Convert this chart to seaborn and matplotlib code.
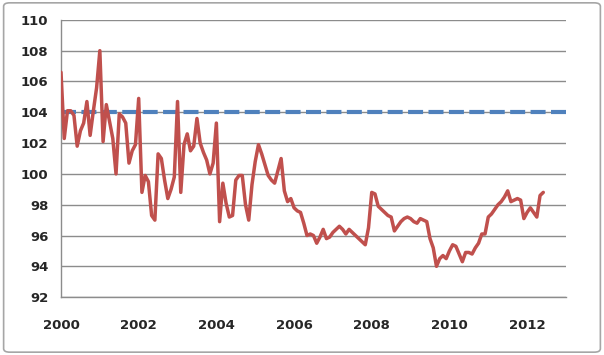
import numpy as np
import pandas as pd
import matplotlib
matplotlib.use('Agg')
import matplotlib.pyplot as plt
import seaborn as sns
from matplotlib.patches import FancyBboxPatch

# monthly index values, Jan 2000 - Jun 2012
values = [
    106.6, 102.3, 104.1, 104.1, 103.8, 101.8, 102.8, 103.3, 104.7, 102.5, 104.1, 105.6,
    108.0, 102.1, 104.5, 103.4, 102.3, 100.0, 103.9, 103.7, 103.3, 100.7, 101.5, 101.9,
    104.9, 98.8, 99.9, 99.5, 97.3, 97.0, 101.3, 101.0, 99.6, 98.4, 99.0, 99.8,
    104.7, 98.8, 101.9, 102.6, 101.5, 101.8, 103.6, 102.0, 101.4, 100.9, 100.0, 100.7,
    103.3, 96.9, 99.4, 98.1, 97.2, 97.3, 99.6, 99.9, 99.9, 98.0, 97.0, 99.3,
    100.8, 101.9, 101.3, 100.6, 99.9, 99.6, 99.4, 100.2, 101.0, 98.9, 98.2, 98.4,
    97.8, 97.6, 97.5, 96.8, 96.0, 96.1, 96.0, 95.5, 95.9, 96.4, 95.8, 95.9,
    96.2, 96.4, 96.6, 96.4, 96.1, 96.4, 96.2, 96.0, 95.8, 95.6, 95.4, 96.5,
    98.8, 98.7, 97.9, 97.7, 97.5, 97.3, 97.2, 96.3, 96.6, 96.9, 97.1, 97.2,
    97.1, 96.9, 96.8, 97.1, 97.0, 96.9, 95.8, 95.2, 94.0, 94.5, 94.7, 94.5,
    95.0, 95.4, 95.3, 94.8, 94.3, 94.9, 94.9, 94.8, 95.2, 95.5, 96.1, 96.1,
    97.2, 97.4, 97.7, 98.0, 98.2, 98.5, 98.9, 98.2, 98.3, 98.4, 98.3, 97.1,
    97.5, 97.8, 97.5, 97.2, 98.6, 98.8,
]
start_year = 2000
ref_level = 104
x_ticks = [2000, 2002, 2004, 2006, 2008, 2010, 2012]
y_ticks = [92, 94, 96, 98, 100, 102, 104, 106, 108, 110]

df = pd.DataFrame({'year': start_year + np.arange(len(values)) / 12.0, 'value': values})

sns.set_style('white')
plt.rcParams['font.family'] = ['DejaVu Sans']

fig = plt.figure(figsize=(6.04, 3.55), dpi=100)
ax = fig.add_axes([0.101, 0.163, 0.836, 0.781])

# light frame round the whole chart
fig.patches.append(FancyBboxPatch((0.006, 0.008), 0.988, 0.984, boxstyle='round,pad=0,rounding_size=0.01',
                                  transform=fig.transFigure, fill=False, edgecolor='#a6a6a6', lw=1.2))

ax.axhline(ref_level, color='#4F81BD', lw=3.0, dashes=(3.6, 1.3), zorder=2)
sns.lineplot(data=df, x='year', y='value', color='#C0504D', lw=2.5, ax=ax, zorder=3)

ax.set_xlim(2000, 2013)
ax.set_ylim(92, 110)
ax.set_xticks(x_ticks)
ax.set_yticks(y_ticks)
ax.set_xlabel('')
ax.set_ylabel('')
ax.yaxis.grid(True, color='#8c8c8c', lw=1)
ax.set_axisbelow(True)

for side in ['top', 'right']:
    ax.spines[side].set_visible(False)
for side in ['left', 'bottom']:
    ax.spines[side].set_color('#8c8c8c')
    ax.spines[side].set_linewidth(1)

ax.tick_params(axis='both', direction='out', length=4, width=1, color='#8c8c8c',
               labelsize=9.5, pad=5)
for lab in ax.get_xticklabels() + ax.get_yticklabels():
    lab.set_fontweight('bold')
ax.tick_params(axis='x', pad=12)

fig.savefig('out.png', dpi=100)
